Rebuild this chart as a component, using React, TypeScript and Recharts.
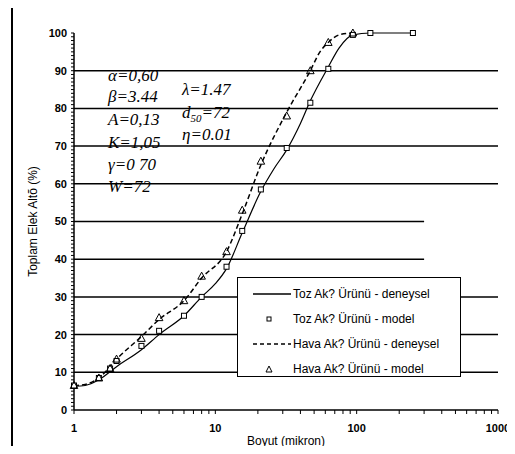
import React from 'react';
import {
  ComposedChart,
  Line,
  Scatter,
  XAxis,
  YAxis,
  ReferenceLine,
  Legend,
} from 'recharts';

// elek boyutları (mikron) ve ölçülen / hesaplanan değerler
const tozLineSizes = [1, 1.2, 1.5, 2, 3, 4, 6, 8, 10, 12, 15.5, 21, 26, 32, 40, 47, 63, 75, 94, 125, 250];
const tozLineValues = [6.3, 6.5, 8, 11.5, 16, 20, 25, 30, 33.5, 37.5, 47, 58, 64, 69, 76, 82, 91, 96, 99.5, 100, 100];

const havaLineSizes = [1, 1.2, 1.5, 2, 3, 4, 6, 8, 12, 15.5, 21, 32, 47, 55, 63, 75, 94];
const havaLineValues = [6.5, 6.8, 8.5, 13.5, 19.5, 24, 29, 35, 42, 52, 65, 79, 90, 95, 97.5, 99.5, 100];

const tozModelSizes = [1, 1.5, 1.8, 2, 3, 4, 6, 8, 12, 15.5, 21, 32, 47, 63, 94, 125, 250];
const tozModelValues = [6.5, 8.5, 11, 13, 17, 21, 25, 30, 38, 47.5, 58.5, 69.5, 81.5, 90.5, 99.5, 100, 100];

const havaModelSizes = [1, 1.5, 1.8, 2, 3, 4, 6, 8, 12, 15.5, 21, 32, 47, 63, 94];
const havaModelValues = [6.5, 8.5, 11, 13.5, 19, 24.5, 29, 35.5, 42, 53, 66, 78, 90, 97.5, 100];

const xTicks = [1, 2, 3, 4, 5, 6, 7, 8, 9, 10, 20, 30, 40, 50, 60, 70, 80, 90, 100, 200, 300, 400, 500, 600, 700, 800, 900, 1000];
const xLabels = [1, 10, 100, 1000];
const yLabels = [0, 10, 20, 30, 40, 50, 60, 70, 80, 90, 100];
const yTicks = Array.from({ length: 101 }, (_, i) => i);
const fullGrid = [10, 20, 30, 60, 70, 80, 90];
const shortGrid = [40, 50];

const legendItems = [
  { name: 'Toz Ak? Ürünü - deneysel', kind: 'solid' },
  { name: 'Toz Ak? Ürünü - model', kind: 'square' },
  { name: 'Hava Ak? Ürünü - deneysel', kind: 'dashed' },
  { name: 'Hava Ak? Ürünü - model', kind: 'triangle' },
];

const pair = (xs: number[], ys: number[]) => xs.map((x, i) => ({ x, y: ys[i] }));

const tozLine = pair(tozLineSizes, tozLineValues);
const havaLine = pair(havaLineSizes, havaLineValues);
const tozModel = pair(tozModelSizes, tozModelValues);
const havaModel = pair(havaModelSizes, havaModelValues);

const tickStyle = { fontFamily: 'Liberation Sans', fontSize: 11, fontWeight: 700, fill: '#000' };

const SquareMark = (props: any) => {
  const { cx, cy } = props;
  return <rect x={cx - 2.5} y={cy - 2.5} width={5} height={5} fill="#fff" stroke="#000" strokeWidth={1} />;
};

const TriangleMark = (props: any) => {
  const { cx, cy } = props;
  return (
    <path
      d={`M${cx},${cy - 4} L${cx + 3.8},${cy + 3} L${cx - 3.8},${cy + 3} Z`}
      fill="none"
      stroke="#000"
      strokeWidth={1}
    />
  );
};

const LegendBox = () => (
  <div
    style={{
      width: 224,
      height: 100,
      border: '1.5px solid #000',
      background: '#fff',
      boxSizing: 'border-box',
      paddingTop: 3,
      fontFamily: 'Liberation Sans',
      fontSize: 12,
      color: '#000',
    }}
  >
    {legendItems.map(item => (
      <div key={item.name} style={{ display: 'flex', alignItems: 'center', height: 25 }}>
        <svg width={55} height={12} style={{ flex: 'none' }}>
          {item.kind === 'solid' && <line x1={15} y1={6} x2={53} y2={6} stroke="#000" strokeWidth={1.3} />}
          {item.kind === 'dashed' && (
            <line x1={15} y1={6} x2={53} y2={6} stroke="#000" strokeWidth={1.3} strokeDasharray="4 3" />
          )}
          {item.kind === 'square' && <rect x={29} y={4} width={4} height={4} fill="#fff" stroke="#000" />}
          {item.kind === 'triangle' && <path d="M31,3 L34,9 L28,9 Z" fill="none" stroke="#000" />}
        </svg>
        <span style={{ whiteSpace: 'nowrap' }}>{item.name}</span>
      </div>
    ))}
  </div>
);

const noteStyle: React.CSSProperties = {
  position: 'absolute',
  fontFamily: 'Liberation Serif',
  fontStyle: 'italic',
  fontSize: 17,
  lineHeight: '18px',
  color: '#000',
  whiteSpace: 'nowrap',
};

const App = () => {
  return (
    <div style={{ position: 'relative', width: 515, height: 454, margin: -8, background: '#fff', overflow: 'hidden' }}>
      <ComposedChart width={515} height={454} margin={{ top: 33, right: 17, bottom: 0, left: 0 }}>
        <XAxis
          dataKey="x"
          type="number"
          scale="log"
          domain={[1, 1000]}
          ticks={xTicks}
          interval={0}
          tickFormatter={v => (xLabels.includes(v) ? String(v) : '')}
          tick={tickStyle}
          tickSize={4}
          tickMargin={10}
          height={44}
          axisLine={{ stroke: '#000', strokeWidth: 1.5 }}
          tickLine={{ stroke: '#000' }}
          label={{
            value: 'Boyut (mikron)',
            position: 'insideBottom',
            offset: 9,
            style: { fontFamily: 'Liberation Sans', fontSize: 12, fill: '#000' },
          }}
        />
        <YAxis
          dataKey="y"
          type="number"
          domain={[0, 100]}
          ticks={yTicks}
          interval={0}
          tickFormatter={v => (yLabels.includes(v) ? String(v) : '')}
          tick={tickStyle}
          tickSize={3}
          tickMargin={4}
          width={74}
          axisLine={{ stroke: '#000', strokeWidth: 1.5 }}
          tickLine={{ stroke: '#000' }}
          label={{
            value: 'Toplam Elek Altõ (%)',
            angle: -90,
            position: 'center',
            dx: -4,
            style: { fontFamily: 'Liberation Sans', fontSize: 12, fill: '#000', textAnchor: 'middle' },
          }}
        />
        {fullGrid.map(v => (
          <ReferenceLine key={v} y={v} stroke="#000" strokeWidth={1.5} />
        ))}
        {shortGrid.map(v => (
          <ReferenceLine
            key={v}
            segment={[
              { x: 1, y: v },
              { x: 300, y: v },
            ]}
            stroke="#000"
            strokeWidth={1.5}
          />
        ))}
        <Line
          data={tozLine}
          dataKey="y"
          type="monotone"
          stroke="#000"
          strokeWidth={1.2}
          dot={false}
          activeDot={false}
          isAnimationActive={false}
          legendType="none"
        />
        <Line
          data={havaLine}
          dataKey="y"
          type="monotone"
          stroke="#000"
          strokeWidth={1.5}
          strokeDasharray="5 3"
          dot={false}
          activeDot={false}
          isAnimationActive={false}
          legendType="none"
        />
        <Scatter data={tozModel} dataKey="y" shape={SquareMark} isAnimationActive={false} legendType="none" />
        <Scatter data={havaModel} dataKey="y" shape={TriangleMark} isAnimationActive={false} legendType="none" />
        <Legend
          layout="vertical"
          align="center"
          verticalAlign="middle"
          content={LegendBox}
          wrapperStyle={{ left: 237, top: 277, width: 226, height: 102 }}
        />
      </ComposedChart>
      <div style={{ ...noteStyle, left: 108, top: 67 }}>α=0,60</div>
      <div style={{ ...noteStyle, left: 108, top: 88 }}>β=3.44</div>
      <div style={{ ...noteStyle, left: 108, top: 111 }}>A=0,13</div>
      <div style={{ ...noteStyle, left: 108, top: 134 }}>K=1,05</div>
      <div style={{ ...noteStyle, left: 108, top: 156 }}>γ=0 70</div>
      <div style={{ ...noteStyle, left: 108, top: 178 }}>W=72</div>
      <div style={{ ...noteStyle, left: 182, top: 81 }}>λ=1.47</div>
      <div style={{ ...noteStyle, left: 182, top: 104 }}>
        d<sub style={{ fontSize: 11 }}>50</sub>=72
      </div>
      <div style={{ ...noteStyle, left: 182, top: 126 }}>η=0.01</div>
      <div
        style={{
          position: 'absolute',
          left: 11,
          top: 2,
          width: 520,
          height: 445,
          borderTop: '2px solid #000',
          borderLeft: '2px solid #000',
          borderBottom: '2px solid #000',
          pointerEvents: 'none',
        }}
      />
    </div>
  );
};

export default App;
